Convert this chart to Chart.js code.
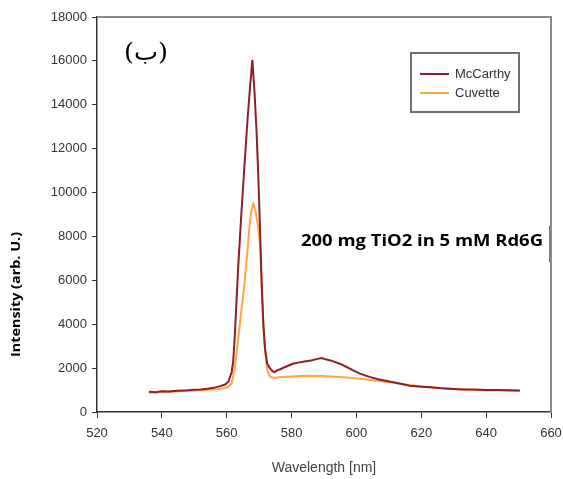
<!DOCTYPE html>
<html>
<head>
<meta charset="utf-8">
<script src="https://cdn.jsdelivr.net/npm/chart.js@4/dist/chart.umd.min.js"></script>
<style>
  body { margin: 0; background: #fff; }
  canvas { display: block; }
</style>
</head>
<body>
<canvas id="chart" width="563" height="479"></canvas>
<script>
// values
const seriesNames = ["McCarthy", "Cuvette"];

const mcWavelength = [536, 538, 540, 542, 545, 548, 550, 552, 554, 556, 558, 559.5, 560.5, 561.5, 562, 562.5, 563.5, 564.5, 565.5, 566.5, 567.3, 567.9, 568.6, 569.2, 569.8, 570.3, 570.8, 571.3, 571.8, 572.5, 573.3, 574.2, 574.9, 575.5, 576.5, 578, 580.4, 582, 584, 586, 588, 589.3, 590.5, 592, 594.9, 597, 599, 601.1, 604, 607, 611.3, 614, 616.5, 620, 622.7, 626, 630, 632.9, 636, 640, 644, 647, 650.4];
const mcIntensity = [920, 900, 940, 930, 970, 990, 1010, 1030, 1060, 1100, 1180, 1250, 1380, 1800, 2300, 3500, 6500, 9000, 11300, 13500, 15000, 16050, 14500, 12800, 10500, 8200, 5800, 4000, 2900, 2200, 2000, 1850, 1820, 1900, 1950, 2050, 2200, 2250, 2300, 2350, 2420, 2460, 2400, 2350, 2200, 2050, 1900, 1750, 1600, 1480, 1360, 1280, 1200, 1150, 1130, 1080, 1050, 1030, 1020, 1000, 1000, 990, 980];

const cuWavelength = [536, 538, 540, 543, 546, 549, 552, 555, 557, 559, 560.5, 561.5, 562.5, 563.5, 564.5, 565.5, 566.3, 567, 567.6, 568.2, 568.8, 569.4, 570, 570.4, 570.8, 571.3, 571.8, 572.3, 572.8, 573.5, 574.9, 576, 578, 580, 583, 586, 589, 592, 595, 598, 601, 605, 609, 612, 616, 620, 623, 627, 631, 635, 640, 645, 650.4];
const cuIntensity = [900, 880, 910, 920, 950, 970, 990, 1010, 1040, 1080, 1150, 1300, 2000, 3300, 4600, 5900, 7200, 8400, 9200, 9480, 9200, 8700, 8100, 7300, 5700, 4000, 2900, 2100, 1750, 1600, 1550, 1580, 1600, 1620, 1640, 1650, 1640, 1620, 1600, 1560, 1510, 1450, 1380, 1320, 1230, 1170, 1130, 1080, 1040, 1010, 990, 980, 960];

const xTicks = [520, 540, 560, 580, 600, 620, 640, 660];
const yTicks = [0, 2000, 4000, 6000, 8000, 10000, 12000, 14000, 16000, 18000];

const mcColor = "#8c1f2c";
const cuColor = "#ffa640";

function toPoints(xs, ys) {
  return xs.map((x, i) => ({ x: x, y: ys[i] }));
}

// draw text stretched to a given width
function fitText(ctx, text, x, y, width) {
  const w = ctx.measureText(text).width;
  ctx.save();
  ctx.translate(x, y);
  ctx.scale(width / w, 1);
  ctx.fillText(text, 0, 0);
  ctx.restore();
}

// extra texts, frame and legend drawn over the chart
const decorations = {
  id: "decorations",
  afterDraw(chart) {
    const ctx = chart.ctx;
    const area = chart.chartArea;
    ctx.save();

    // grey top / right frame
    ctx.strokeStyle = "#8a8a8a";
    ctx.lineWidth = 2;
    ctx.beginPath();
    ctx.moveTo(area.left, area.top);
    ctx.lineTo(area.right, area.top);
    ctx.lineTo(area.right, area.bottom);
    ctx.stroke();

    // legend box
    ctx.strokeStyle = "#707070";
    ctx.lineWidth = 2;
    ctx.strokeRect(411, 53, 108, 59);
    const rows = [[seriesNames[0], mcColor, 74], [seriesNames[1], cuColor, 93]];
    ctx.font = "13px 'Liberation Sans', Arial, sans-serif";
    ctx.textBaseline = "middle";
    ctx.textAlign = "left";
    rows.forEach(([name, color, y]) => {
      ctx.strokeStyle = color;
      ctx.lineWidth = 2;
      ctx.beginPath();
      ctx.moveTo(420, y);
      ctx.lineTo(449, y);
      ctx.stroke();
      ctx.fillStyle = "#333";
      ctx.fillText(name, 455, y);
    });

    // arabic panel label
    ctx.fillStyle = "#000";
    ctx.font = "24px 'DejaVu Serif', 'DejaVu Sans', serif";
    ctx.textAlign = "left";
    fitText(ctx, "(ب)", 124, 54, 44);

    // annotation
    ctx.font = "bold 16px 'Open Sans', sans-serif";
    fitText(ctx, "200 mg TiO2 in 5 mM Rd6G", 301, 241, 242);
    ctx.strokeStyle = "#777";
    ctx.lineWidth = 1;
    ctx.beginPath();
    ctx.moveTo(549.5, 226);
    ctx.lineTo(549.5, 262);
    ctx.stroke();

    // y axis title
    ctx.translate(16, 295);
    ctx.rotate(-Math.PI / 2);
    ctx.font = "bold 13px 'Open Sans', sans-serif";
    fitText(ctx, "Intensity (arb. U.)", -62, 0, 125);

    ctx.restore();
  }
};

new Chart(document.getElementById("chart"), {
  type: "line",
  data: {
    datasets: [
      {
        label: seriesNames[0],
        data: toPoints(mcWavelength, mcIntensity),
        borderColor: mcColor,
        borderWidth: 2,
        pointRadius: 0,
        tension: 0,
        order: 0,
      },
      {
        label: seriesNames[1],
        data: toPoints(cuWavelength, cuIntensity),
        borderColor: cuColor,
        borderWidth: 2,
        pointRadius: 0,
        tension: 0,
        order: 1,
      },
    ],
  },
  options: {
    responsive: false,
    animation: false,
    layout: { padding: { top: 17, right: 12, left: 0, bottom: 0 } },
    plugins: {
      legend: { display: false },
      tooltip: { enabled: false },
    },
    scales: {
      x: {
        type: "linear",
        min: xTicks[0],
        max: xTicks[xTicks.length - 1],
        afterBuildTicks: (scale) => { scale.ticks = xTicks.map((v) => ({ value: v })); },
        afterFit: (scale) => {
          scale.height = 67;
          scale.paddingRight = 0;
          scale.paddingLeft = 0;
        },
        grid: { drawOnChartArea: false, tickLength: 6, color: "#333" },
        border: { color: "#333", width: 1.5 },
        ticks: {
          color: "#333",
          padding: 8,
          maxRotation: 0,
          callback: (v) => String(v),
          font: { family: "'Liberation Sans', Arial, sans-serif", size: 13 },
        },
        title: {
          display: true,
          text: "Wavelength [nm]",
          color: "#444",
          padding: { top: 0, bottom: 2 },
          font: { family: "'Liberation Sans', Arial, sans-serif", size: 14 },
        },
      },
      y: {
        min: yTicks[0],
        max: yTicks[yTicks.length - 1],
        afterBuildTicks: (scale) => { scale.ticks = yTicks.map((v) => ({ value: v })); },
        afterFit: (scale) => { scale.width = 97; },
        grid: { drawOnChartArea: false, tickLength: 5, color: "#333" },
        border: { color: "#333", width: 1.5 },
        ticks: {
          color: "#333",
          padding: 5,
          callback: (v) => String(v),
          font: { family: "'Liberation Sans', Arial, sans-serif", size: 13 },
        },
      },
    },
  },
  plugins: [decorations],
});
</script>
</body>
</html>
